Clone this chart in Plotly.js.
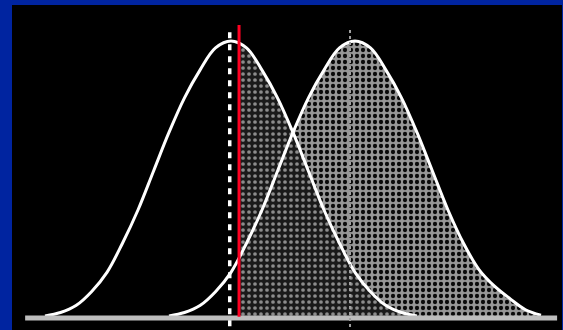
<!DOCTYPE html>
<html>
<head>
<meta charset="utf-8">
<script src="https://cdn.plot.ly/plotly-3.0.1.min.js"></script>
<style>html,body{margin:0;padding:0;background:#0024a0;}#chart{width:563px;height:330px;}</style>
</head>
<body>
<div id="chart"></div>
<script>
// Left distribution (null), x in sd units
var xLeft = [-3,-2.75,-2.5,-2.25,-2,-1.75,-1.5,-1.25,-1,-0.75,-0.5,-0.25,0,0.25,0.5,0.75,1,1.25,1.5,1.75,2,2.25,2.5,2.75,3];
var yLeft = [0.003,0.008,0.018,0.038,0.066,0.108,0.156,0.212,0.268,0.318,0.358,0.390,0.400,0.390,0.358,0.318,0.268,0.212,0.156,0.108,0.066,0.038,0.018,0.008,0.003];
// Right distribution (alternative)
var xRight = [-1,-0.75,-0.5,-0.25,0,0.25,0.5,0.75,1,1.25,1.5,1.75,2,2.25,2.5,2.75,3,3.25,3.5,3.75,4,4.25,4.5,4.75,5];
var yRight = [0.003,0.008,0.018,0.038,0.066,0.108,0.156,0.212,0.268,0.318,0.358,0.390,0.400,0.390,0.358,0.318,0.268,0.212,0.156,0.108,0.070,0.046,0.028,0.012,0.004];
// Vertical markers
var meanLeftLine = -0.02;
var criticalValue = 0.13;
var meanRightLine = 1.92;

function valAt(xs, ys, x) {
  if (x < xs[0] || x > xs[xs.length-1]) return 0;
  for (var i = 0; i < xs.length - 1; i++) {
    if (x >= xs[i] && x <= xs[i+1]) {
      var t = (x - xs[i]) / (xs[i+1] - xs[i]);
      return ys[i] + t * (ys[i+1] - ys[i]);
    }
  }
  return ys[ys.length-1];
}

// Dark region: under left curve, right of critical value
var darkX = [criticalValue], darkY = [valAt(xLeft, yLeft, criticalValue)];
xLeft.forEach(function(x, i){ if (x > criticalValue) { darkX.push(x); darkY.push(yLeft[i]); } });

// Checkered region: between left and right curve where right > left
var lowX = [], lowY = [], upY = [];
xRight.forEach(function(x, i){
  var l = valAt(xLeft, yLeft, x);
  if (yRight[i] >= l && x >= 1) { lowX.push(x); lowY.push(l); upY.push(yRight[i]); }
});

var traces = [
  {x: darkX, y: darkY, mode: 'lines', line: {width: 0, shape: 'spline', color: 'rgba(0,0,0,0)'},
   fill: 'tozeroy', fillcolor: '#2a2a2a',
   fillpattern: {shape: '.', bgcolor: '#1a1a1a', fgcolor: '#8c8c8c', size: 6, solidity: 0.3},
   hoverinfo: 'skip', showlegend: false},
  {x: lowX, y: lowY, mode: 'lines', line: {width: 0, shape: 'spline', color: 'rgba(0,0,0,0)'},
   hoverinfo: 'skip', showlegend: false},
  {x: lowX, y: upY, mode: 'lines', line: {width: 0, shape: 'spline', color: 'rgba(0,0,0,0)'},
   fill: 'tonexty', fillcolor: '#808080',
   fillpattern: {shape: '.', bgcolor: '#969696', fgcolor: '#0a0a0a', size: 6, solidity: 0.4},
   hoverinfo: 'skip', showlegend: false},
  {x: xLeft, y: yLeft, mode: 'lines', line: {color: '#ffffff', width: 3, shape: 'spline'}, hoverinfo: 'skip', showlegend: false},
  {x: xRight, y: yRight, mode: 'lines', line: {color: '#ffffff', width: 3, shape: 'spline'}, hoverinfo: 'skip', showlegend: false}
];

var layout = {
  width: 563, height: 330,
  margin: {l: 12, r: 1, t: 5, b: 0},
  paper_bgcolor: '#0024a0',
  plot_bgcolor: '#000000',
  xaxis: {range: [-3.532, 5.339], visible: false, fixedrange: true},
  yaxis: {range: [-0.0173, 0.452], visible: false, fixedrange: true},
  showlegend: false,
  shapes: [
    {type: 'line', xref: 'x', yref: 'y', x0: -3.32, x1: 5.26, y0: 0, y1: 0, line: {color: '#bdbdbd', width: 5}},
    {type: 'line', xref: 'x', yref: 'y', x0: meanRightLine, x1: meanRightLine, y0: -0.013, y1: 0.42, line: {color: '#a0a0a0', width: 2, dash: 'dot'}},
    {type: 'line', xref: 'x', yref: 'y', x0: meanLeftLine, x1: meanLeftLine, y0: -0.012, y1: 0.419, line: {color: '#ffffff', width: 3.5, dash: '6px,6px'}},
    {type: 'line', xref: 'x', yref: 'y', x0: criticalValue, x1: criticalValue, y0: 0.002, y1: 0.423, line: {color: '#ff0022', width: 3}}
  ]
};

Plotly.newPlot('chart', traces, layout, {displayModeBar: false, staticPlot: true});
</script>
</body>
</html>
